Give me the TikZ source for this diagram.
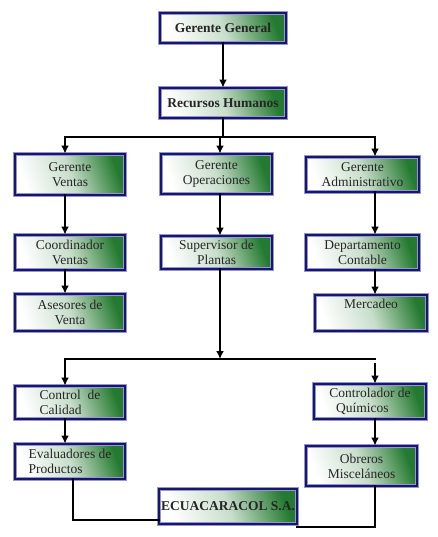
\documentclass[tikz,border=0pt]{standalone}
\usepackage{fontspec}
\setmainfont{Liberation Serif}
\usetikzlibrary{arrows.meta}
\definecolor{marino}{RGB}{22,22,110}
\definecolor{lila}{RGB}{150,150,205}
\definecolor{verde}{RGB}{36,122,48}

\begin{document}
\begin{tikzpicture}[x=1pt,y=-1pt,>={Latex[length=8pt,width=8pt]},
    caja/.style={draw=lila,line width=0.9pt,double=marino,double distance=2.6pt,
        top color=verde,bottom color=white,middle color=verde!25!white,shading angle=-70,
        text=black!85,font=\fontsize{13.5}{15}\selectfont,align=center,inner sep=2pt},
    titulo/.style={caja,font=\bfseries\fontsize{13.5}{15}\selectfont},
    linea/.style={line width=2.6pt,line cap=rect}]
        \useasboundingbox (0,0) rectangle (438,537);
        % cabecera
        \node[titulo,minimum width=126,minimum height=30] (gg) at (223,28) {Gerente General};
        \node[titulo,minimum width=126,minimum height=30] (rh) at (223,103) {Recursos Humanos};
        % gerencias
        \node[caja,minimum width=110,minimum height=41] (gv) at (70,174.5) {Gerente\\Ventas};
        \node[caja,minimum width=111,minimum height=40] (go) at (216.5,174) {Gerente\\Operaciones};
        \node[caja,minimum width=113,minimum height=35] (ga) at (362.5,174.5) {Gerente\\Administrativo};
        \node[caja,minimum width=110,minimum height=35] (cv) at (70,252.5) {Coordinador\\Ventas};
        \node[caja,minimum width=111,minimum height=33] (sp) at (216.5,252.5) {Supervisor de\\Plantas};
        \node[caja,minimum width=113,minimum height=35] (dc) at (362.5,252.5) {Departamento\\Contable};
        \node[caja,minimum width=110,minimum height=37] (av) at (70,312.5) {Asesores de\\Venta};
        \node[caja,minimum width=112,minimum height=36,text depth=18pt] (mer) at (371,313) {Mercadeo};
        % planta
        \node[caja,align=left,minimum width=110,minimum height=33] (cc) at (70,402.5) {Control\ \ de\\Calidad};
        \node[caja,align=left,minimum width=112,minimum height=35] (cq) at (370,401.5) {Controlador de\\\ \ Químicos};
        \node[caja,align=left,minimum width=110,minimum height=35] (ev) at (70,461.5) {Evaluadores de\\Productos};
        \node[caja,minimum width=111,minimum height=40] (ob) at (361.5,466) {Obreros\\Misceláneos};
        \node[titulo,minimum width=136,minimum height=35] (ec) at (228,506.5) {ECUACARACOL S.A.};

        \coordinate (cL) at (65,137);
        \coordinate (cM) at (220,137);
        \coordinate (cR) at (375,137);
        \coordinate (dL) at (65,359);
        \coordinate (dM) at (220,359);
        \coordinate (dR) at (375,359);
        \coordinate (dR2) at (375,364);
        \coordinate (eL) at (73,520);
        \coordinate (eR) at (375,527);

        \draw[linea,->] (gg) -- (rh);
        \draw[linea] (rh.south) -- (rh.south |- cM);
        \draw[linea] (cL) -- (cR);
        \draw[linea,->] (cL) -- (cL |- gv.north);
        \draw[linea,->] (cM) -- (cM |- go.north);
        \draw[linea,->] (cR) -- (cR |- ga.north);
        \draw[linea,->] (cL |- gv.south) -- (cL |- cv.north);
        \draw[linea,->] (cM |- go.south) -- (cM |- sp.north);
        \draw[linea,->] (cR |- ga.south) -- (cR |- dc.north);
        \draw[linea,->] (cL |- cv.south) -- (cL |- av.north);
        \draw[linea,->] (cR |- dc.south) -- (cR |- mer.north);

        \draw[linea,->] (dM |- sp.south) -- (dM);
        \draw[linea] (dL) -- (dR);
        \draw[linea,->] (dL) -- (dL |- cc.north);
        \draw[linea,->] (dR2) -- (dR2 |- cq.north);
        \draw[linea,->] (dL |- cc.south) -- (dL |- ev.north);
        \draw[linea,->] (dR |- cq.south) -- (dR |- ob.north);

        \draw[linea] (eL |- ev.south) -- (eL) -- (eL -| ec.west);
        \draw[linea] (eR |- ob.south) -- (eR) -- (eR -| ec.east);
    \end{tikzpicture}
\end{document}
